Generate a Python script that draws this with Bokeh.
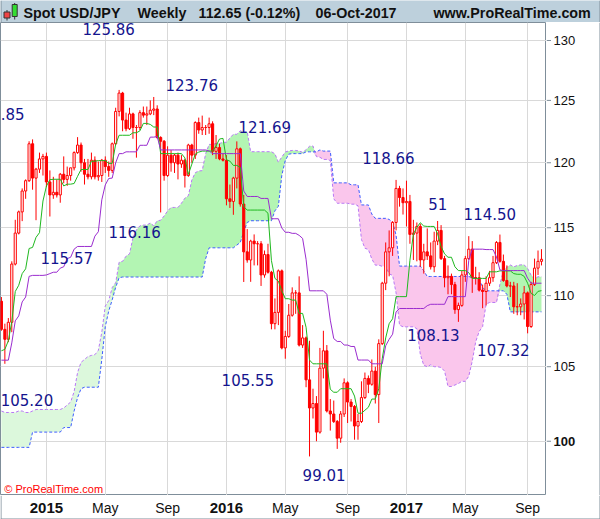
import numpy as np
from bokeh.plotting import figure
from bokeh.layouts import column, row
from bokeh.models import Range1d, FixedTicker, Label
from bokeh.embed import file_html
from bokeh.resources import INLINE
from bokeh.core.properties import value

# ---------------- data (weekly bars, first bar = week of 6-Oct-2014, last = week of 2-Oct-2017) -------------
opens = [109.6, 107.6, 106.9, 108.1, 112.3, 114.6, 116.2, 117.8, 118.6, 121.5,
         118.8, 119.5, 120.3, 120.5, 118.5, 117.5, 117.7, 117.5, 119.1, 118.7,
         119.0, 119.6, 120.8, 121.4, 120.0, 119.1, 118.9, 120.2, 118.9, 119.0,
         120.2, 119.7, 119.4, 121.5, 124.1, 125.6, 123.4, 122.7, 123.9, 122.8,
         122.8, 124.0, 123.8, 123.9, 124.2, 124.3, 122.0, 121.7, 119.0, 120.6,
         120.0, 120.6, 119.9, 120.2, 119.0, 121.4, 120.6, 123.2, 122.6, 122.8,
         122.8, 123.1, 120.9, 121.2, 120.3, 120.2, 117.2, 117.0, 118.8, 121.1,
         116.8, 113.2, 112.6, 114.0, 113.8, 113.8, 111.5, 113.0, 111.7, 108.0,
         108.8, 111.8, 106.3, 107.1, 108.6, 110.2, 110.2, 106.5, 107.0, 104.1,
         102.2, 102.5, 100.6, 104.9, 106.1, 102.0, 101.8, 101.3, 100.2, 101.8,
         103.9, 102.6, 102.3, 101.0, 101.3, 102.9, 104.2, 103.8, 104.7, 103.1,
         106.6, 110.9, 113.2, 113.5, 115.4, 118.0, 117.3, 116.9, 117.0, 114.5,
         114.6, 115.1, 112.6, 113.2, 112.9, 112.1, 114.0, 114.8, 112.7, 111.3,
         111.4, 110.8, 109.0, 109.3, 111.5, 112.7, 113.4, 111.3, 111.3, 110.4,
         110.3, 110.9, 111.3, 112.4, 113.9, 112.5, 111.1, 110.7, 110.7, 109.2,
         109.2, 109.4, 110.2, 107.8, 110.8, 112.0, 112.5]
highs = [109.9, 108.0, 108.4, 112.5, 115.6, 116.3, 118.0, 118.7, 121.7, 121.85,
         119.6, 120.8, 120.7, 120.8, 119.4, 118.9, 118.7, 119.2, 120.5, 119.7,
         119.6, 120.9, 122.03, 121.6, 120.3, 120.3, 120.8, 120.5, 120.1, 120.3,
         120.5, 120.1, 121.6, 124.4, 125.86, 125.7, 124.0, 124.4, 124.0, 123.0,
         124.2, 124.5, 124.5, 125.0, 125.28, 124.6, 122.1, 121.8, 121.3, 121.0,
         120.7, 120.8, 120.6, 120.3, 121.5, 121.5, 123.3, 123.6, 123.76, 123.0,
         123.6, 123.3, 122.2, 121.5, 120.7, 120.6, 118.3, 118.9, 121.69, 121.2,
         117.5, 114.9, 114.1, 114.5, 114.0, 114.0, 113.3, 113.8, 111.8, 109.8,
         111.9, 111.9, 107.5, 109.4, 110.6, 110.4, 111.4, 107.9, 107.1, 106.8,
         103.5, 103.0, 106.3, 107.5, 106.5, 102.8, 102.7, 101.4, 102.0, 104.2,
         104.0, 102.8, 102.4, 101.8, 104.0, 104.6, 104.4, 105.5, 105.0, 106.9,
         111.0, 113.9, 114.8, 115.5, 118.66, 118.2, 118.0, 118.6, 117.5, 115.6,
         115.4, 115.3, 113.8, 114.95, 113.9, 114.7, 115.51, 115.2, 112.9, 112.2,
         111.6, 111.0, 109.5, 111.8, 112.9, 114.37, 114.0, 112.1, 111.7, 110.8,
         111.4, 111.8, 112.9, 114.0, 114.49, 113.0, 112.2, 111.0, 111.0, 110.9,
         109.8, 110.7, 110.3, 111.0, 112.7, 113.3, 113.4]
lows = [107.5, 105.2, 106.7, 107.4, 112.2, 114.5, 115.5, 117.2, 118.5, 117.9,
        115.57, 119.2, 119.0, 118.1, 115.85, 117.2, 117.3, 116.9, 118.4, 118.2,
        118.6, 119.4, 120.7, 119.3, 118.3, 118.7, 118.7, 118.7, 118.6, 118.5,
        119.2, 118.9, 119.2, 121.4, 123.7, 122.5, 122.5, 122.6, 121.9, 120.4,
        122.6, 123.6, 123.0, 123.8, 123.8, 121.9, 116.16, 118.6, 118.9, 119.3,
        119.2, 118.7, 119.6, 118.07, 118.9, 120.0, 120.3, 122.3, 122.2, 122.2,
        122.3, 120.6, 120.3, 120.2, 120.1, 116.7, 116.5, 115.98, 118.0, 116.6,
        110.99, 112.4, 111.0, 112.2, 112.2, 110.7, 111.3, 111.6, 107.6, 107.6,
        107.9, 106.2, 105.55, 107.0, 108.5, 108.7, 106.4, 106.3, 103.6, 99.01,
        101.5, 100.0, 100.5, 104.2, 101.9, 100.7, 101.2, 99.5, 99.9, 101.6,
        101.2, 101.3, 100.1, 100.1, 101.2, 102.8, 103.2, 103.7, 102.5, 101.2,
        106.5, 110.4, 111.4, 112.9, 114.8, 116.6, 116.0, 115.1, 113.8, 112.6,
        112.5, 112.1, 111.6, 112.6, 111.9, 111.7, 113.7, 112.6, 110.6, 110.1,
        110.1, 108.7, 108.13, 109.2, 111.0, 112.6, 110.2, 110.8, 110.3, 109.1,
        109.3, 110.7, 111.0, 112.3, 112.4, 111.0, 110.6, 109.9, 108.7, 108.6,
        108.6, 108.3, 107.32, 107.7, 110.7, 111.5, 112.2]
closes = [107.6, 106.9, 108.1, 112.3, 114.6, 116.2, 117.8, 118.6, 121.5, 118.8,
          119.5, 120.3, 120.5, 118.5, 117.5, 117.7, 117.5, 119.1, 118.7, 119.0,
          119.6, 120.8, 121.4, 120.0, 119.1, 118.9, 120.2, 118.9, 119.0, 120.2,
          119.7, 119.4, 121.5, 124.1, 125.6, 123.4, 122.7, 123.9, 122.8, 122.8,
          124.0, 123.8, 123.9, 124.2, 124.3, 122.0, 121.7, 119.0, 120.6, 120.0,
          120.6, 119.9, 120.2, 119.0, 121.4, 120.6, 123.2, 122.6, 122.8, 122.8,
          123.1, 120.9, 121.2, 120.3, 120.2, 117.2, 117.0, 118.8, 121.1, 116.8,
          113.2, 112.6, 114.0, 113.8, 113.8, 111.5, 113.0, 111.7, 108.0, 108.8,
          111.8, 106.3, 107.1, 108.6, 110.2, 110.2, 106.5, 107.0, 104.1, 102.2,
          102.5, 100.6, 104.9, 106.1, 102.0, 101.8, 101.3, 100.2, 101.8, 103.9,
          102.6, 102.3, 101.0, 101.3, 102.9, 104.2, 103.8, 104.7, 103.1, 106.6,
          110.9, 113.2, 113.5, 115.4, 118.0, 117.3, 116.9, 117.0, 114.5, 114.6,
          115.1, 112.6, 113.2, 112.9, 112.1, 114.0, 114.8, 112.7, 111.3, 111.4,
          110.8, 109.0, 109.3, 111.5, 112.7, 113.4, 111.3, 111.3, 110.4, 110.3,
          110.9, 111.3, 112.4, 113.9, 112.5, 111.1, 110.7, 110.7, 109.2, 109.2,
          109.4, 110.2, 107.8, 110.8, 112.0, 112.5, 112.65]

# Ichimoku lines
tenkan = [106.1, 106.2, 106.8, 108.15, 110.3, 110.75, 111.6, 111.95, 113.45, 113.53,
          114.28, 114.63, 117.03, 118.18, 118.68, 118.71, 118.71, 118.71, 118.19, 118.33,
          118.33, 118.38, 118.94, 119.47, 119.47, 119.47, 120.12, 120.12, 120.17, 120.17,
          120.17, 119.95, 119.95, 121.45, 122.18, 122.18, 122.18, 122.18, 122.38, 122.38,
          122.53, 123.13, 123.13, 123.05, 122.84, 122.84, 120.72, 120.72, 120.72, 120.72,
          120.72, 120.72, 120.72, 120.38, 119.08, 119.89, 120.69, 120.84, 120.92, 120.92,
          120.92, 120.92, 121.33, 121.88, 121.93, 120.23, 120.13, 119.79, 119.79, 119.64,
          116.6, 116.34, 116.34, 116.34, 116.34, 116.34, 116.34, 116.1, 112.55, 111.25,
          111.05, 110.35, 109.78, 109.78, 109.68, 109.68, 108.73, 108.73, 107.75, 105.46,
          105.2, 105.2, 105.2, 105.2, 105.2, 103.46, 103.26, 103.26, 103.5, 103.5,
          103.5, 103.5, 103.0, 101.85, 101.85, 102.05, 102.25, 102.8, 102.8, 103.5,
          105.55, 107.0, 108.0, 108.35, 109.93, 109.93, 109.93, 109.93, 112.58, 114.53,
          115.03, 115.38, 115.13, 115.1, 115.1, 115.1, 114.55, 113.6, 113.05, 112.8,
          112.8, 112.1, 111.82, 111.82, 111.82, 111.67, 111.25, 111.25, 111.25, 111.25,
          111.25, 111.73, 111.73, 111.73, 111.8, 111.8, 111.8, 111.8, 111.6, 111.55,
          111.55, 111.4, 110.9, 110.16, 110.01, 110.31, 110.36]
kijun = [105.45, 105.45, 105.45, 106.65, 108.2, 108.55, 109.55, 109.9, 111.4, 111.47,
         111.47, 111.47, 111.47, 111.5, 111.6, 111.7, 111.7, 112.0, 112.1, 112.7,
         112.8, 113.4, 113.6, 113.6, 113.6, 113.6, 113.6, 114.37, 114.7, 117.12,
         118.27, 118.77, 118.8, 119.99, 120.72, 120.72, 120.86, 120.86, 120.86, 120.86,
         121.38, 121.38, 121.38, 122.03, 122.03, 122.08, 121.01, 121.01, 121.01, 121.01,
         121.01, 121.01, 121.01, 121.01, 121.01, 121.01, 121.01, 121.01, 121.01, 121.01,
         120.93, 120.72, 120.72, 120.72, 120.72, 120.72, 120.72, 120.72, 120.72, 120.72,
         117.8, 117.38, 117.38, 117.38, 117.38, 117.23, 117.23, 117.23, 115.68, 115.68,
         115.68, 114.98, 114.66, 114.66, 114.58, 114.58, 114.43, 114.2, 112.65, 110.35,
         110.35, 110.35, 110.35, 110.35, 110.1, 108.25, 106.95, 106.75, 106.75, 106.5,
         106.5, 106.4, 106.4, 105.46, 105.46, 105.46, 105.46, 105.2, 105.2, 105.2,
         105.2, 106.45, 106.9, 107.26, 108.84, 109.08, 109.08, 109.08, 109.08, 109.08,
         109.08, 109.08, 109.08, 109.28, 109.38, 109.38, 109.38, 109.38, 109.38, 109.93,
         109.93, 109.93, 109.93, 109.93, 109.93, 112.58, 113.4, 113.4, 113.4, 113.4,
         113.37, 113.37, 113.37, 112.82, 111.87, 111.82, 111.82, 111.82, 111.82, 111.82,
         111.82, 111.82, 111.26, 110.9, 110.9, 110.9, 110.9]
span_a = [102.0, 101.9, 101.9, 101.9, 101.9, 102.0, 102.0, 101.9, 101.9, 102.0,
          102.1, 102.1, 102.1, 102.1, 102.1, 102.1, 102.1, 102.1, 102.2, 102.4,
          102.6, 103.3, 104.6, 105.3, 105.5, 105.7, 105.78, 105.83, 106.13, 107.4,
          109.25, 109.65, 110.58, 110.93, 112.43, 112.5, 112.88, 113.05, 114.25, 114.84,
          115.14, 115.2, 115.2, 115.36, 115.15, 115.52, 115.57, 115.89, 116.27, 116.54,
          116.54, 116.54, 116.86, 117.25, 117.44, 118.65, 119.22, 119.36, 119.38, 120.72,
          121.45, 121.45, 121.52, 121.52, 121.62, 121.62, 121.96, 122.26, 122.26, 122.54,
          122.44, 122.46, 120.87, 120.87, 120.87, 120.87, 120.87, 120.87, 120.87, 120.7,
          120.05, 120.45, 120.85, 120.93, 120.97, 120.97, 120.93, 120.82, 121.03, 121.3,
          121.33, 120.48, 120.43, 120.26, 120.26, 120.18, 117.2, 116.86, 116.86, 116.86,
          116.86, 116.79, 116.79, 116.67, 114.12, 113.47, 113.37, 112.67, 112.22, 112.22,
          112.13, 112.13, 111.58, 111.47, 110.2, 107.9, 107.78, 107.78, 107.78, 107.78,
          107.65, 105.86, 105.1, 105.0, 105.13, 105.0, 105.0, 104.95, 104.7, 103.65,
          103.65, 103.75, 103.85, 104.0, 104.0, 104.35, 105.38, 106.73, 107.45, 107.8,
          109.39, 109.51, 109.51, 109.51, 110.83, 111.8, 112.06, 112.23, 112.1, 112.19,
          112.24, 112.24, 111.97, 111.49, 111.22, 111.37, 111.37]
span_b = [99.6, 99.6, 99.6, 99.6, 99.6, 99.6, 99.6, 99.6, 99.6, 100.6,
          100.6, 100.6, 100.6, 100.6, 100.6, 100.6, 100.6, 100.6, 100.9, 100.9,
          100.9, 102.0, 102.9, 103.5, 103.6, 103.6, 103.6, 103.6, 103.6, 105.5,
          107.8, 108.9, 109.7, 110.6, 111.3, 111.35, 111.35, 111.35, 111.35, 111.35,
          111.35, 111.35, 111.35, 111.35, 111.35, 111.35, 111.35, 111.35, 111.35, 111.35,
          111.35, 111.35, 111.35, 111.35, 111.35, 111.35, 111.35, 111.35, 111.35, 112.7,
          113.5, 113.5, 113.5, 113.5, 113.5, 113.5, 113.5, 113.5, 113.7, 113.9,
          114.7, 115.4, 115.53, 115.53, 115.53, 115.53, 115.53, 115.53, 115.53, 116.28,
          116.63, 119.03, 120.18, 120.68, 120.72, 120.72, 120.72, 120.72, 120.86, 120.86,
          120.86, 120.86, 121.01, 120.92, 120.92, 120.92, 118.43, 118.43, 118.43, 118.43,
          118.43, 118.28, 118.28, 118.28, 116.73, 116.73, 116.73, 116.03, 115.71, 115.71,
          115.71, 115.71, 115.63, 115.42, 114.44, 112.15, 112.15, 112.15, 112.15, 112.15,
          112.15, 112.15, 111.8, 111.39, 111.39, 111.39, 111.39, 111.39, 111.39, 111.39,
          111.39, 111.39, 111.39, 111.39, 111.39, 111.39, 111.3, 111.3, 111.16, 110.6,
          110.35, 110.35, 110.35, 110.35, 110.35, 110.35, 110.1, 108.84, 108.84, 108.84,
          108.84, 108.84, 108.84, 108.84, 108.84, 108.84, 108.84]

# axis ticks (bar index of first bar of the month)
x_tick_weeks = [13, 30, 48, 65, 82, 100, 117, 134, 152]
x_tick_labels = ["2015", "May", "Sep", "2016", "May", "Sep", "2017", "May", "Sep"]
y_ticks = [100, 105, 110, 115, 120, 125, 130]

# high / low value labels drawn on the chart
label_texts = [".85", "125.86", "123.76", "121.69", "118.66", "51", "114.50",
               "116.16", "115.57", "105.20", "105.55", "99.01", "108.13", "107.32"]
label_weeks = [-0.2, 23.4, 47.4, 68.5, 104.2, 123.3, 133.5,
               30.9, 11.3, -0.2, 63.6, 87.0, 117.2, 137.4]
label_prices = [123.86, 131.0, 126.3, 122.85, 120.38, 116.77, 116.04,
                114.68, 112.75, 102.77, 104.12, 97.84, 107.17, 106.19]

header_texts = ["Spot USD/JPY", "Weekly", "112.65 (-0.12%)", "06-Oct-2017", "www.ProRealTime.com"]
header_x = [23, 137, 198, 315, 433]

# ---------------- layout / style constants -------------
W = 600
H_HDR, H_FRAME, H_XAX = 22, 473, 24
W_FRAME = 546
X_START, X_END = -0.263, 157.45
Y_LO, Y_HI = 96.51, 131.54
RED = "#ff0000"
NAVY = "#14148e"
BORDER = "#7f8e9a"
PALE_END = 32
FONT = "Liberation Sans"

weeks = np.arange(len(closes))
o = np.array(opens); h = np.array(highs); l = np.array(lows); c = np.array(closes)
sa = np.array(span_a); sb = np.array(span_b)
lo = np.minimum(sa, sb)

# ---------------- header -------------
hdr = figure(width=W, height=H_HDR, title=None, x_range=Range1d(0, W), y_range=Range1d(0, H_HDR),
             x_axis_location=None, y_axis_location=None, toolbar_location=None,
             output_backend="svg", min_border=0)
hdr.grid.visible = False
hdr.outline_line_color = None
hdr.background_fill_color = "#bdd0dc"
hdr.border_fill_color = "#bdd0dc"
# small candlestick icon
hdr.segment(x0=[6.5, 14.2], y0=[2, 3], x1=[6.5, 14.2], y1=[12.5, 19.5], line_color="#333333", line_width=1)
hdr.quad(left=[3.5], right=[9.5], bottom=[4.5], top=[10.5], fill_color="#ee4444", line_color="#333333")
hdr.quad(left=[11.7], right=[16.7], bottom=[6], top=[18], fill_color="#33dd33", line_color="#333333")
hdr.text(x=header_x, y=[9.5] * len(header_texts), text=header_texts,
         text_font=value(FONT), text_font_size="14.3px", text_font_style="bold",
         text_color="#111111", text_baseline="middle", text_align="left")
hdr.segment(x0=[0.5, W - 0.5], y0=[0, 0], x1=[0.5, W - 0.5], y1=[H_HDR, H_HDR], line_color=BORDER)

# ---------------- main chart frame -------------
p = figure(width=W_FRAME, height=H_FRAME, title=None,
           x_range=Range1d(X_START, X_END), y_range=Range1d(Y_LO, Y_HI),
           y_axis_type="log", y_axis_location=None, x_axis_location=None,
           toolbar_location=None, output_backend="svg", min_border=0)
p.background_fill_color = "white"
p.border_fill_color = "white"
p.outline_line_color = BORDER
p.xgrid.ticker = FixedTicker(ticks=x_tick_weeks)
p.ygrid.ticker = FixedTicker(ticks=y_ticks)
p.xgrid.grid_line_color = "#d9d9d9"
p.ygrid.grid_line_color = "#d9d9d9"

# cloud
p.varea(x=weeks[:PALE_END + 1], y1=sa[:PALE_END + 1], y2=lo[:PALE_END + 1], fill_color="#dcf8dc")
p.varea(x=weeks[PALE_END:], y1=sa[PALE_END:], y2=lo[PALE_END:], fill_color="#b3f5b3")
p.varea(x=weeks, y1=sb, y2=lo, fill_color="#fac6ec")
p.line(weeks, sa, line_color="#b878f5", line_dash="3 2", line_width=1)
p.line(weeks, sb, line_color="#3d5cff", line_dash="3 2", line_width=1)

# candles
up = c >= o
p.segment(x0=weeks, y0=l, x1=weeks, y1=h, line_color=RED, line_width=1)
p.vbar(x=weeks[up], width=0.62, top=c[up], bottom=o[up], fill_color="white", line_color=RED, line_width=1)
p.vbar(x=weeks[~up], width=0.62, top=o[~up], bottom=c[~up], fill_color=RED, line_color=RED, line_width=1)

# tenkan / kijun
p.line(weeks, tenkan, line_color="#1fb81f", line_width=1)
p.line(weeks, kijun, line_color="#9a2ccf", line_width=1)

# value labels
p.text(x=label_weeks, y=label_prices, text=label_texts,
       text_font=value("DejaVu Sans"), text_font_size="15px", text_color=NAVY,
       text_baseline="middle", text_align="left")

# watermark
p.add_layout(Label(x=0.83, y=96.89, text="\u00a9 ProRealTime.com", text_align="left",
                   text_baseline="middle", text_font=FONT, text_font_size="11px",
                   text_color="#ff0000"))

# ---------------- price axis (right) -------------
W_YAX = W - W_FRAME
yax = figure(width=W_YAX, height=H_FRAME, title=None, x_range=Range1d(0, W_YAX), y_range=p.y_range,
             y_axis_type="log", y_axis_location=None, x_axis_location=None,
             toolbar_location=None, output_backend="svg", min_border=0)
yax.grid.visible = False
yax.outline_line_color = None
yax.background_fill_color = "white"
yax.border_fill_color = "white"
yax.segment(x0=[0] * len(y_ticks), y0=y_ticks, x1=[4.5] * len(y_ticks), y1=y_ticks,
            line_color=BORDER, line_width=1)
normal_ticks = [t for t in y_ticks if t != 100]
yax.text(x=[7] * len(normal_ticks), y=normal_ticks, text=[str(t) for t in normal_ticks],
         text_font=value(FONT), text_font_size="13px", text_color="#111111",
         text_baseline="middle", text_align="left")
yax.text(x=[7], y=[100], text=["100"], text_font=value(FONT), text_font_size="13px",
         text_font_style="bold", text_color="#111111", text_baseline="middle", text_align="left")
yax.segment(x0=[W_YAX - 0.5], y0=[Y_LO], x1=[W_YAX - 0.5], y1=[Y_HI], line_color=BORDER)

# ---------------- time axis (bottom) -------------
px_per_week = W_FRAME / (X_END - X_START)
tick_px = [(k - X_START) * px_per_week for k in x_tick_weeks]
xax = figure(width=W, height=H_XAX, title=None, x_range=Range1d(0, W), y_range=Range1d(0, H_XAX),
             x_axis_location=None, y_axis_location=None, toolbar_location=None,
             output_backend="svg", min_border=0)
xax.grid.visible = False
xax.outline_line_color = None
xax.background_fill_color = "white"
xax.border_fill_color = "white"
years = [i for i, t in enumerate(x_tick_labels) if t.isdigit()]
months = [i for i, t in enumerate(x_tick_labels) if not t.isdigit()]
xax.text(x=[tick_px[i] for i in years], y=[12] * len(years), text=[x_tick_labels[i] for i in years],
         text_font=value(FONT), text_font_size="15px", text_font_style="bold", text_color="#111111",
         text_baseline="middle", text_align="center")
xax.text(x=[tick_px[i] for i in months], y=[12] * len(months), text=[x_tick_labels[i] for i in months],
         text_font=value(FONT), text_font_size="14px", text_color="#111111",
         text_baseline="middle", text_align="center")
xax.segment(x0=[0.5, W - 0.5, 0], y0=[0, 0, 0.5], x1=[0.5, W - 0.5, W], y1=[H_XAX, H_XAX, 0.5],
            line_color=BORDER)

layout = column(hdr, row(p, yax), xax)
open("out.html", "w").write(file_html(layout, INLINE))
